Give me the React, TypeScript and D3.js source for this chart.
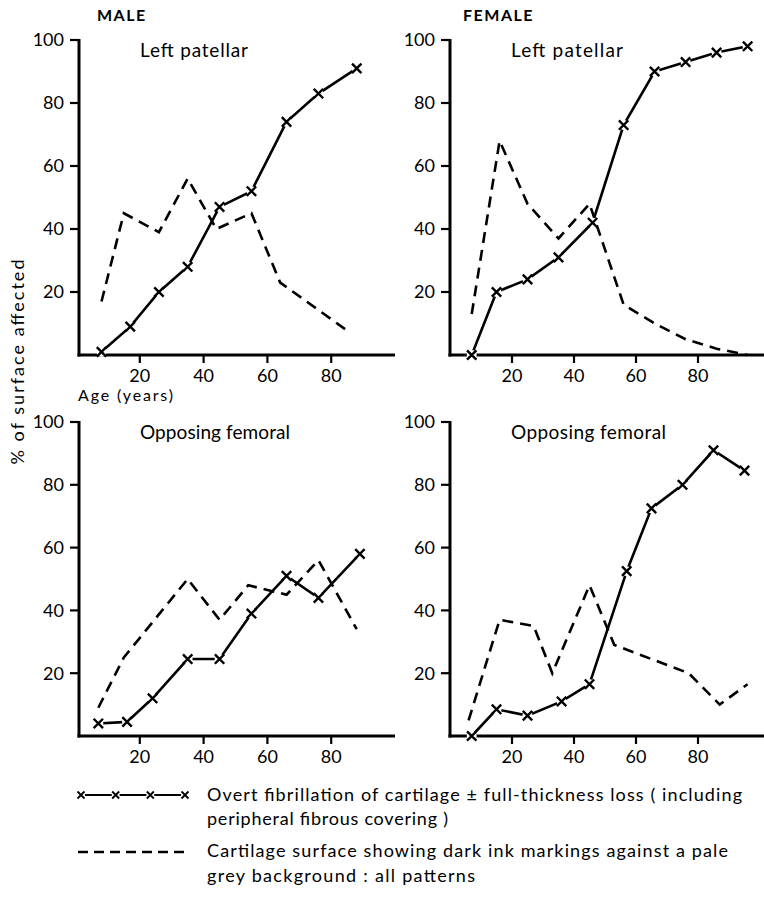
import React from "react";
import * as d3 from "d3";

// ---------- data ----------
const xTicks = [20, 40, 60, 80];
const yTicks = [20, 40, 60, 80, 100];

const maleLPFibAge = [8, 17, 26, 35, 45, 55, 66, 76, 88];
const maleLPFib = [1, 9, 20, 28, 47, 52, 74, 83, 91];
const maleLPInkAge = [8, 15, 26, 35, 44, 55, 64, 86];
const maleLPInk = [17, 45, 39, 56, 40, 45, 23, 7];

const femaleLPFibAge = [7, 15, 25, 35, 46, 56, 66, 76, 86, 96];
const femaleLPFib = [0, 20, 24, 31, 42, 73, 90, 93, 96, 98];
const femaleLPInkAge = [7, 16, 25, 35, 45, 56, 66, 76, 86, 96];
const femaleLPInk = [13, 68, 48, 37, 48, 16, 10, 5, 2, 0];

const maleOFFibAge = [7, 16, 24, 35, 45, 55, 66, 76, 89];
const maleOFFib = [4, 4.5, 12, 24.5, 24.5, 39, 51, 44, 58];
const maleOFInkAge = [7, 15, 35, 45, 54, 66, 76, 88];
const maleOFInk = [9, 25, 50, 37, 48, 45, 56, 34];

const femaleOFFibAge = [7, 15, 25, 36, 45, 57, 65, 75, 85, 95];
const femaleOFFib = [0, 8.5, 6.5, 11, 16.5, 52.5, 72.5, 80, 91, 84.5];
const femaleOFInkAge = [6, 16, 27, 33, 45, 53, 77, 87, 96];
const femaleOFInk = [5, 37, 35, 20, 48, 29, 20, 10, 16.5];

const sexTitles = ["MALE", "FEMALE"];
const panelTitles = ["Left patellar", "Opposing femoral"];
const legendLines = [
  "Overt fibrillation of cartilage \u00b1 full-thickness loss ( including",
  "peripheral fibrous covering )",
  "Cartilage surface showing dark ink markings against a pale",
  "grey background :  all patterns",
];

const FONT = "Lato, 'Open Sans', sans-serif";

type PanelProps = {
  axisX: number;
  xRange: [number, number];
  xEnd: number;
  yRange: [number, number];
  title: string;
  titleLen: number;
  fibAge: number[];
  fib: number[];
  inkAge: number[];
  ink: number[];
};

function cross(x: number, y: number, h: number) {
  return `M${x - h},${y - h}L${x + h},${y + h}M${x - h},${y + h}L${x + h},${y - h}`;
}

function Panel(p: PanelProps) {
  const x = d3.scaleLinear().domain([0, 100]).range(p.xRange);
  const y = d3.scaleLinear().domain([0, 100]).range(p.yRange);
  const line = d3
    .line<[number, number]>()
    .x((d) => x(d[0]))
    .y((d) => y(d[1]));
  const fibPts: [number, number][] = p.fibAge.map((a, i) => [a, p.fib[i]]);
  const inkPts: [number, number][] = p.inkAge.map((a, i) => [a, p.ink[i]]);
  const y0 = y(0);
  return (
    <g>
      {/* axes */}
      <line x1={p.axisX} x2={p.axisX} y1={y(100) - 1} y2={y0 + 1.5} stroke="#000" strokeWidth={3} />
      <line x1={p.axisX - 1.5} x2={p.xEnd} y1={y0} y2={y0} stroke="#000" strokeWidth={3} />
      {yTicks.map((t) => (
        <g key={"y" + t}>
          <line x1={p.axisX - 9} x2={p.axisX} y1={y(t)} y2={y(t)} stroke="#000" strokeWidth={2.2} />
          <text
            x={p.axisX - 15}
            y={y(t)}
            dy="0.36em"
            textAnchor="end"
            fontSize={18}
            fontFamily={FONT}
          >
            {t}
          </text>
        </g>
      ))}
      {xTicks.map((t) => (
        <g key={"x" + t}>
          <line x1={x(t)} x2={x(t)} y1={y0} y2={y0 + 8} stroke="#000" strokeWidth={2.2} />
          <text x={x(t)} y={y0 + 27} textAnchor="middle" fontSize={18} fontFamily={FONT}>
            {t}
          </text>
        </g>
      ))}
      <text
        x={p.axisX + 61}
        y={y(100) + 17}
        fontSize={19}
        fontFamily={FONT}
        textLength={p.titleLen}
        lengthAdjust="spacing"
      >
        {p.title}
      </text>
      {/* series */}
      <path d={line(inkPts) || ""} fill="none" stroke="#000" strokeWidth={2.6} strokeDasharray="11 7" />
      <path d={line(fibPts) || ""} fill="none" stroke="#000" strokeWidth={2.6} />
      {fibPts.map((d, i) => (
        <g key={"m" + i}>
          <circle cx={x(d[0])} cy={y(d[1])} r={5} fill="#fff" />
          <path d={cross(x(d[0]), y(d[1]), 4.7)} stroke="#000" strokeWidth={2.4} fill="none" />
        </g>
      ))}
    </g>
  );
}

export default function App() {
  const legendX = d3.scaleLinear().domain([0, 3]).range([81, 185]);
  const legendMarks = [0, 1, 2, 3];
  return (
    <svg width={764} height={901} style={{ position: "absolute", left: 0, top: 0, background: "#fff" }}>
      <rect width={764} height={901} fill="#fff" />
      <text x={97} y={21} fontSize={16} fontWeight="bold" fontFamily={FONT} letterSpacing={1.5}>
        {sexTitles[0]}
      </text>
      <text x={463} y={21} fontSize={16} fontWeight="bold" fontFamily={FONT} letterSpacing={1.5}>
        {sexTitles[1]}
      </text>
      <Panel axisX={79} xRange={[76, 395]} xEnd={395} yRange={[355, 40]} title={panelTitles[0]} titleLen={108}
        fibAge={maleLPFibAge} fib={maleLPFib} inkAge={maleLPInkAge} ink={maleLPInk} />
      <Panel axisX={450} xRange={[450, 760]} xEnd={764} yRange={[355, 40]} title={panelTitles[0]} titleLen={112}
        fibAge={femaleLPFibAge} fib={femaleLPFib} inkAge={femaleLPInkAge} ink={femaleLPInk} />
      <Panel axisX={79} xRange={[76, 395]} xEnd={395} yRange={[736, 422]} title={panelTitles[1]} titleLen={150}
        fibAge={maleOFFibAge} fib={maleOFFib} inkAge={maleOFInkAge} ink={maleOFInk} />
      <Panel axisX={450} xRange={[450, 760]} xEnd={764} yRange={[736, 422]} title={panelTitles[1]} titleLen={155}
        fibAge={femaleOFFibAge} fib={femaleOFFib} inkAge={femaleOFInkAge} ink={femaleOFInk} />
      <text x={78} y={401} fontSize={16} fontFamily={FONT} textLength={95} lengthAdjust="spacing">Age (years)</text>
      <text
        transform="translate(24,362) rotate(-90)"
        textAnchor="middle"
        fontSize={18}
        fontFamily={FONT}
        textLength={205}
        lengthAdjust="spacing"
      >
        % of surface affected
      </text>
      {/* legend */}
      <line x1={legendX(0)} x2={legendX(3)} y1={795} y2={795} stroke="#000" strokeWidth={2} />
      {legendMarks.map((m) => (
        <g key={m}>
          <circle cx={legendX(m)} cy={795} r={4} fill="#fff" />
          <path d={cross(legendX(m), 795, 3.5)} stroke="#000" strokeWidth={1.8} fill="none" />
        </g>
      ))}
      <line x1={78} x2={188} y1={852} y2={852} stroke="#000" strokeWidth={2.6} strokeDasharray="10 6" />
      <text x={207} y={801} fontSize={18} fontFamily={FONT} textLength={535} lengthAdjust="spacing">{legendLines[0]}</text>
      <text x={207} y={825} fontSize={18} fontFamily={FONT} textLength={241} lengthAdjust="spacing">{legendLines[1]}</text>
      <text x={207} y={857} fontSize={18} fontFamily={FONT} textLength={521} lengthAdjust="spacing">{legendLines[2]}</text>
      <text x={207} y={882} fontSize={18} fontFamily={FONT} textLength={268} lengthAdjust="spacing">{legendLines[3]}</text>
    </svg>
  );
}
